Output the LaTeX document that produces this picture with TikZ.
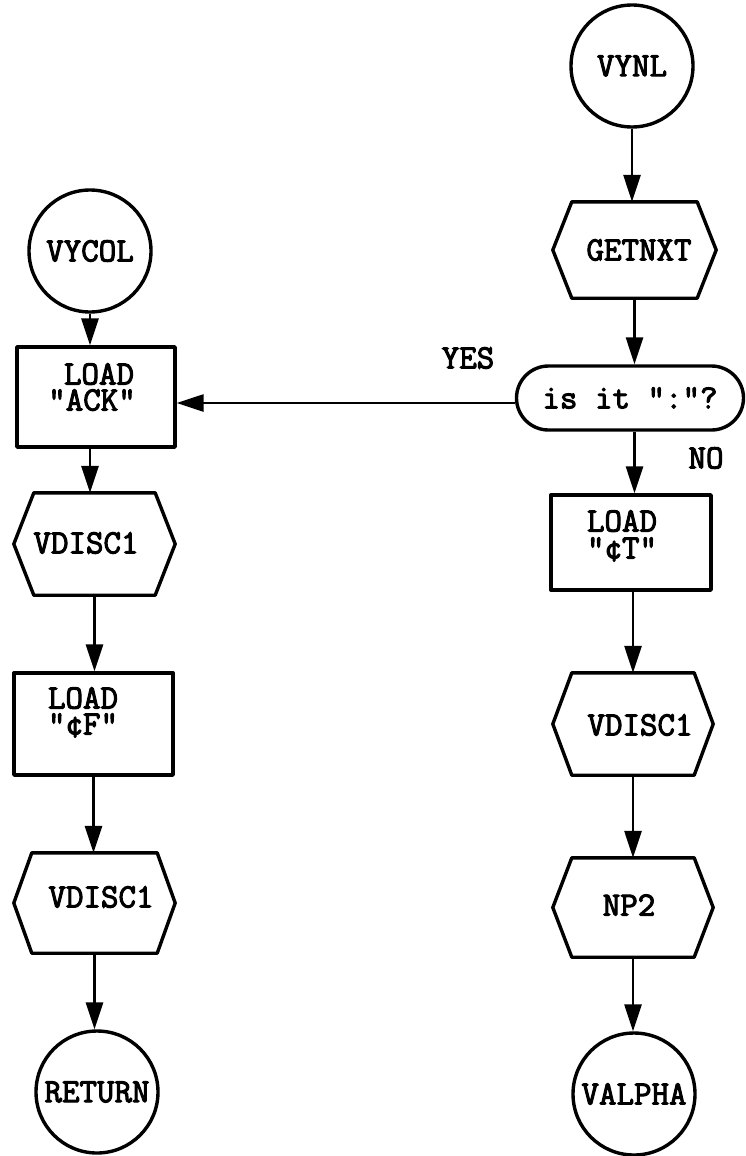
\documentclass[tikz,border=0pt]{standalone}
\usepackage{fontspec}
\newfontfamily\typew[FakeBold=3]{Latin Modern Mono}
\usetikzlibrary{arrows.meta,shapes.misc}
\newcommand\hexoutline[2]{%
  \draw[shapeline] ([xshift=#2]#1.north west) -- ([xshift=-#2]#1.north east) -- (#1.east)
    -- ([xshift=-#2]#1.south east) -- ([xshift=#2]#1.south west) -- (#1.west) -- cycle;}
\tikzset{
  txt/.style={font=\typew\fontsize{34}{29}\selectfont, inner sep=0pt, align=center},
  ln/.style={font=\typew\fontsize{34}{29}\selectfont, inner sep=0pt, text height=21pt, text depth=2pt},
  shapeline/.style={line width=3.4pt, line join=round},
  term/.style={draw, shapeline, circle, minimum size=122pt, inner sep=0pt, txt},
  boxnode/.style={draw, shapeline, rectangle, inner sep=0pt},
  hexnode/.style={rectangle, inner sep=0pt},
  decis/.style={draw, shapeline, rounded rectangle, inner sep=0pt, txt},
  arr/.style={line width=2.8pt, -{Triangle[length=27pt,width=17pt]}},
}
\begin{document}
\begin{tikzpicture}[x=1pt,y=-1pt]
\fill[white] (0,0) rectangle (745,1156);
\useasboundingbox (0,0) rectangle (745,1156);
% left column
\node[term] (vycol) at (90,251) {VYCOL};
\node[boxnode, minimum width=158pt, minimum height=100pt] (ack) at (96,397) {};
\node[ln] (ackt1) at (99,375) {LOAD};
\node[ln] (ackt2) at (92,401) {"ACK"};
\node[hexnode, minimum width=161pt, minimum height=102pt] (vdl) at (94.5,544) {};
\hexoutline{vdl}{20pt}
\node[txt] (vdlt) at (86,543) {VDISC1};
\node[boxnode, minimum width=159pt, minimum height=102pt] (lf) at (93.5,724) {};
\node[ln] (lft1) at (83,699) {LOAD};
\node[ln] (lft2) at (83,725) {"¢F"};
\node[hexnode, minimum width=161pt, minimum height=100pt] (vd2) at (94.5,903) {};
\hexoutline{vd2}{18pt}
\node[txt] (vd2t) at (101,897) {VDISC1};
\node[term] (ret) at (97,1092) {RETURN};
% right column
\node[term] (vynl) at (632,66) {VYNL};
\node[hexnode, minimum width=163pt, minimum height=96pt] (get) at (634.5,250) {};
\hexoutline{get}{19pt}
\node[txt] (gett) at (639,250) {GETNXT};
\node[decis, minimum width=227pt, minimum height=64pt] (dec) at (630,398) {is it ":"?};
\node[boxnode, minimum width=160pt, minimum height=95pt] (ldt) at (631,542.5) {};
\node[ln] (ldtt1) at (622,522) {LOAD};
\node[ln] (ldtt2) at (622,549) {"¢T"};
\node[hexnode, minimum width=160pt, minimum height=102pt] (vdr) at (633,724) {};
\hexoutline{vdr}{19pt}
\node[txt] (vdrt) at (640,725) {VDISC1};
\node[hexnode, minimum width=160pt, minimum height=99pt] (np2) at (633,907.5) {};
\hexoutline{np2}{19pt}
\node[txt] (np2t) at (629,905) {NP2};
\node[term] (valpha) at (634,1094) {VALPHA};
\node[txt] (yes) at (468,358) {YES};
\node[txt] (no) at (706,458) {NO};
% connectors
\draw[arr] (vycol.south) -- (vycol.south |- ack.north);
\draw[arr] (ack.south -| vycol.south) -- (vdl.north -| vycol.south);
\draw[arr] (vdl.south) -- (vdl.south |- lf.north);
\draw[arr] (lf.south) -- (lf.south |- vd2.north);
\draw[arr] (vd2.south) -- (vd2.south |- ret.north);
\draw[arr] (vynl.south) -- (vynl.south |- get.north);
\draw[arr] (get.south) -- (get.south |- dec.north);
\draw[arr] (get.south |- dec.south) -- (get.south |- ldt.north);
\draw[arr] (ldt.south -| vdr.north) -- (vdr.north);
\draw[arr] (vdr.south) -- (np2.north);
\draw[arr] (np2.south) -- (np2.south |- valpha.north);
\draw[arr] ([yshift=-5pt]dec.west) -- ([yshift=-5pt]dec.west -| ack.east);
\end{tikzpicture}
\end{document}
